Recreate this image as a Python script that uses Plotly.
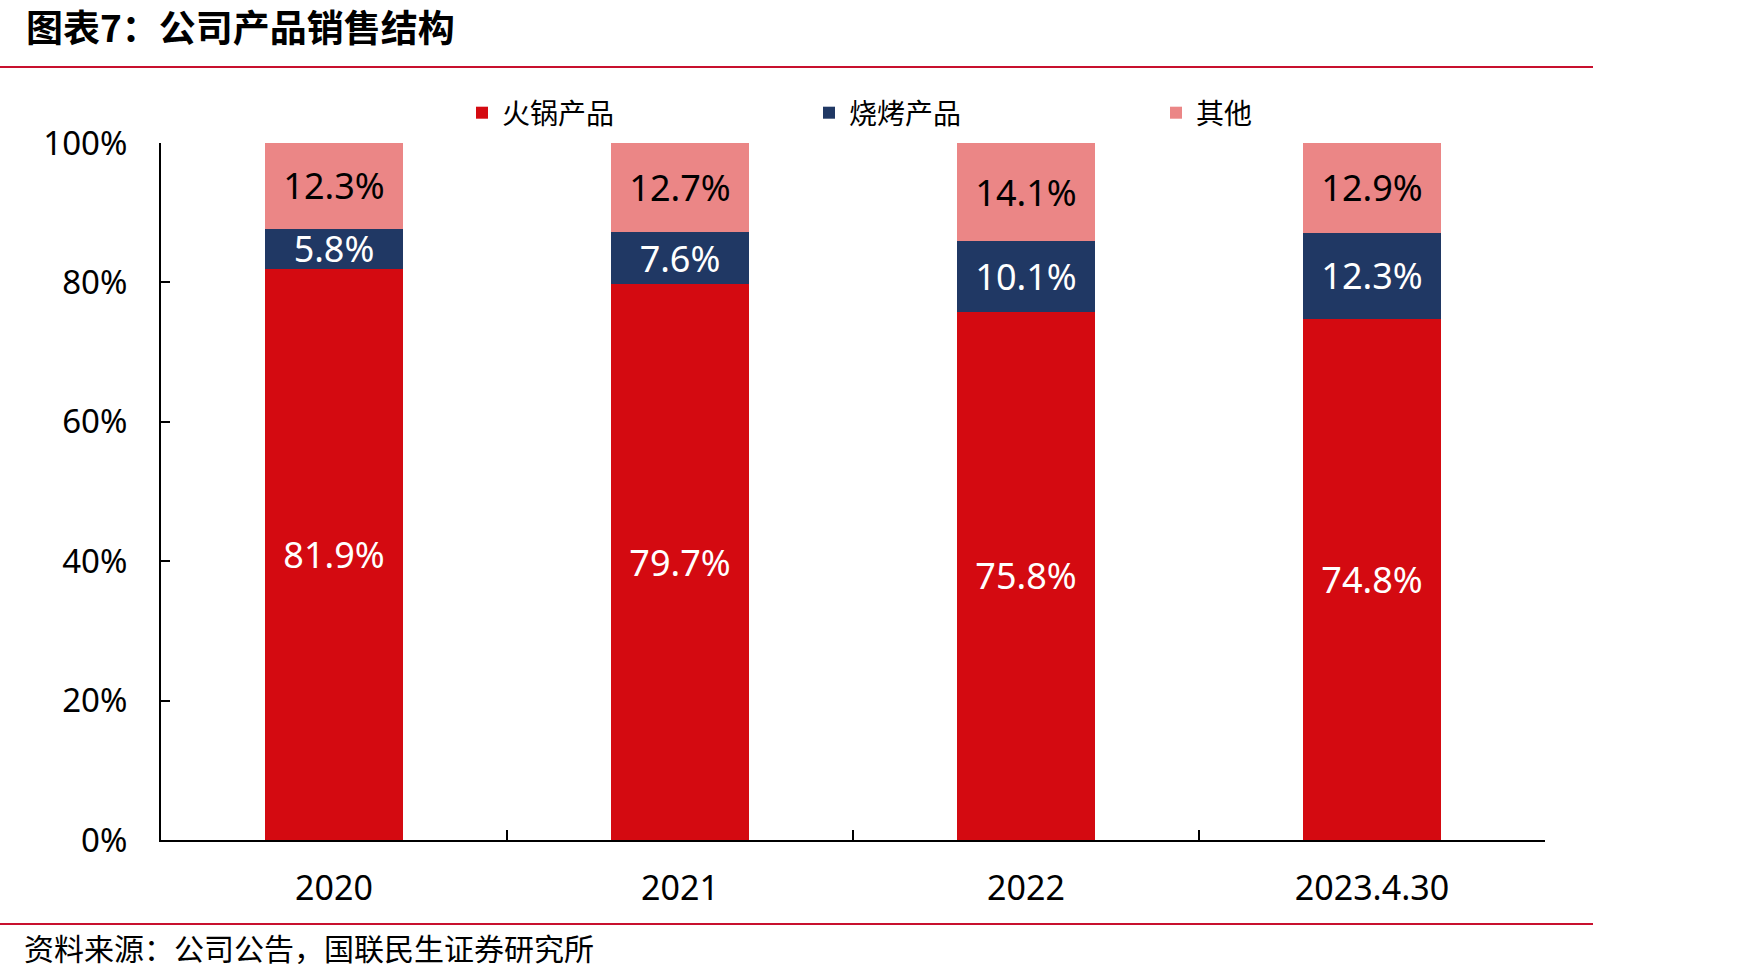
import plotly.graph_objects as go

categories = ["2020", "2021", "2022", "2023.4.30"]
hotpot = [81.9, 79.7, 75.8, 74.8]
bbq = [5.8, 7.6, 10.1, 12.3]
other = [12.3, 12.7, 14.1, 12.9]
series_names = ["火锅产品", "烧烤产品", "其他"]
y_ticks = [0, 20, 40, 60, 80, 100]

colors = ["#D40A11", "#203864", "#EB8686"]
text_colors = ["white", "white", "black"]

W, H = 1749, 976
L, R, T, B = 161, 204, 143, 136
pw, ph = W - L - R, H - T - B

def px_x(x):
    return (x - L) / pw

def px_y(y):
    return (H - B - y) / ph

FONT = "Noto Sans, Noto Sans CJK SC, sans-serif"

fig = go.Figure()
for name, vals, c, tc in zip(series_names, [hotpot, bbq, other], colors, text_colors):
    fig.add_trace(go.Bar(
        x=categories, y=vals, name=name,
        marker=dict(color=c, line=dict(width=0)),
        texttemplate="%{y:.1f}%", textposition="inside",
        insidetextanchor="middle", textangle=0, constraintext="none",
        textfont=dict(color=tc, size=36, family=FONT),
        hoverinfo="skip",
    ))

fig.update_layout(
    width=W, height=H, autosize=False,
    barmode="stack", bargap=0.6,
    margin=dict(l=L, r=R, t=T, b=B),
    paper_bgcolor="white", plot_bgcolor="white",
    font=dict(family=FONT, color="black"),
    legend=dict(
        orientation="h", x=px_x(462), xanchor="left", y=px_y(113), yanchor="middle",
        font=dict(size=28, family="Noto Sans CJK SC, sans-serif"),
        entrywidth=302, traceorder="normal", bgcolor="rgba(0,0,0,0)",
    ),
    xaxis=dict(
        type="category", showline=True, linecolor="black", linewidth=2,
        ticks="inside", tickson="boundaries", ticklen=10, tickwidth=1.5, tickcolor="black",
        tickfont=dict(size=34), ticklabelstandoff=17, showgrid=False, zeroline=False,
    ),
    yaxis=dict(
        range=[0, 100], tickvals=y_ticks, ticktext=[f"{v}%" for v in y_ticks],
        showline=True, linecolor="black", linewidth=2,
        ticks="inside", ticklen=9, tickwidth=1.5, tickcolor="black",
        tickfont=dict(size=33), ticklabelstandoff=25, showgrid=False, zeroline=False,
    ),
    shapes=[
        dict(type="line", xref="paper", yref="paper", x0=px_x(0), x1=px_x(1593),
             y0=px_y(67), y1=px_y(67), line=dict(color="#C8102E", width=2)),
        dict(type="line", xref="paper", yref="paper", x0=px_x(0), x1=px_x(1593),
             y0=px_y(924), y1=px_y(924), line=dict(color="#C8102E", width=2)),
    ],
    annotations=[
        dict(text="<b>图表7：公司产品销售结构</b>", xref="paper", yref="paper",
             x=px_x(24), y=px_y(26), xanchor="left", yanchor="middle", showarrow=False,
             font=dict(size=37, family="Noto Sans CJK SC, sans-serif", color="black")),
        dict(text="资料来源：公司公告，国联民生证券研究所", xref="paper", yref="paper",
             x=px_x(22), y=px_y(947), xanchor="left", yanchor="middle", showarrow=False,
             font=dict(size=30, family="Noto Sans CJK SC, sans-serif", color="black")),
    ],
)

fig.write_html("out.html")
